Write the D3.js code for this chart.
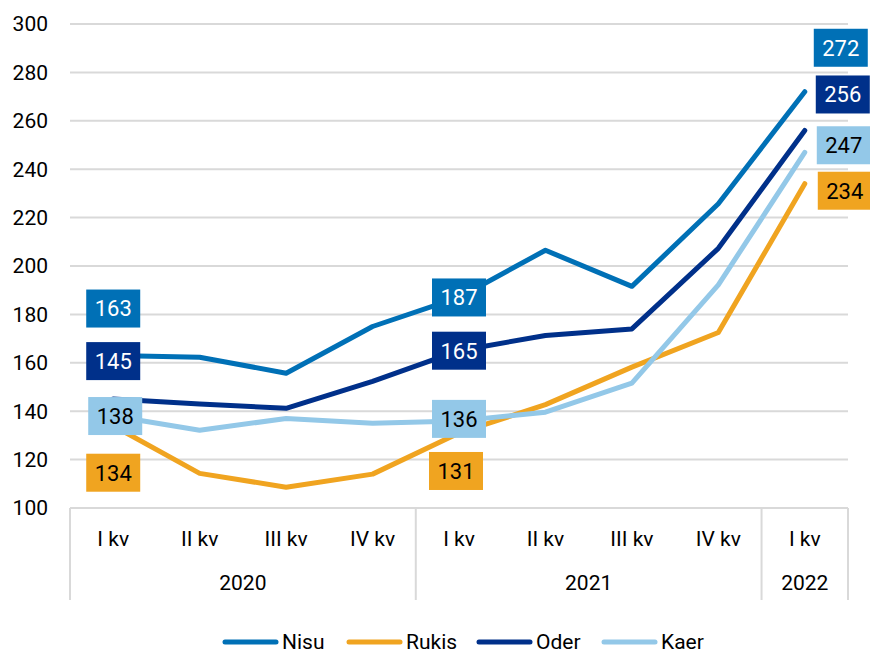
<!DOCTYPE html>
<html>
<head>
<meta charset="utf-8">
<script src="https://cdn.jsdelivr.net/npm/d3@7"></script>
<style>
  body { margin: 0; background: #fff; }
  text { font-family: Roboto, "Liberation Sans", sans-serif; font-weight: 400; }
</style>
</head>
<body>
<svg id="chart" width="870" height="653"></svg>
<script>
// categories
let quarters = ['I kv', 'II kv', 'III kv', 'IV kv', 'I kv', 'II kv', 'III kv', 'IV kv', 'I kv'];
let years = ['2020', '2020', '2020', '2020', '2021', '2021', '2021', '2021', '2022'];
let yTicks = [100, 120, 140, 160, 180, 200, 220, 240, 260, 280, 300];

// series values
let nisu = [163, 162.3, 155.7, 175, 187, 206.5, 191.6, 225.7, 272];
let rukis = [134, 114.3, 108.6, 114, 131, 142.7, 158.2, 172.5, 234];
let oder = [145, 143, 141.2, 152.3, 165, 171.3, 174, 207.3, 256];
let kaer = [138, 132.1, 137, 135, 136, 139.6, 151.6, 192.2, 247];

let seriesNames = ['Nisu', 'Rukis', 'Oder', 'Kaer'];
let seriesColors = ['#0070b6', '#f0a420', '#00308a', '#93c8e8'];
let labelTextColors = ['#fff', '#000', '#fff', '#000'];
let labelIndexes = [0, 4, 8];

// label placement (dx, dy from point)
let labelOffsets = [
    [[0, -47], [0, 0], [36, -44]],
    [[0, 47], [-3, 38], [40, 7]],
    [[0, -38], [0, 0], [38, -36]],
    [[2, 0], [0, -2], [39, -7]]
];

let series = [nisu, rukis, oder, kaer].map((values, i) => ({
    name: seriesNames[i],
    color: seriesColors[i],
    textColor: labelTextColors[i],
    offsets: labelOffsets[i],
    values: values
}));

let svg = d3.select('#chart');
let plotLeft = 70, plotRight = 848, plotTop = 24, plotBottom = 508;

let x = d3.scaleBand()
    .domain(d3.range(quarters.length))
    .range([plotLeft, plotRight]);
let cx = i => x(i) + x.bandwidth() / 2;

let y = d3.scaleLinear()
    .domain([100, 300])
    .range([plotBottom, plotTop]);

// gridlines
svg.append('g')
    .selectAll('line')
    .data(yTicks)
  .enter().append('line')
    .attr('x1', plotLeft)
    .attr('x2', plotRight)
    .attr('y1', d => y(d))
    .attr('y2', d => y(d))
    .attr('stroke', '#d9d9d9')
    .attr('stroke-width', 2);

// y tick labels
svg.append('g')
    .selectAll('text')
    .data(yTicks)
  .enter().append('text')
    .attr('x', 48)
    .attr('y', d => y(d))
    .attr('dy', '0.35em')
    .attr('text-anchor', 'end')
    .style('font-size', '21px')
    .attr('fill', '#000')
    .text(d => d);

// category axis: group separators
let groups = [];
years.forEach((yr, i) => {
    let g = groups.find(g => g.year === yr);
    if (g) g.end = i;
    else groups.push({ year: yr, start: i, end: i });
});
let seps = [plotLeft].concat(groups.map(g => x(g.end) + x.bandwidth()));
svg.append('g')
    .selectAll('line')
    .data(seps)
  .enter().append('line')
    .attr('x1', d => d)
    .attr('x2', d => d)
    .attr('y1', plotBottom)
    .attr('y2', 600)
    .attr('stroke', '#d9d9d9')
    .attr('stroke-width', 2);

svg.append('g')
    .selectAll('text')
    .data(quarters)
  .enter().append('text')
    .attr('x', (d, i) => cx(i))
    .attr('y', 539)
    .attr('dy', '0.35em')
    .attr('text-anchor', 'middle')
    .style('font-size', '21px')
    .text(d => d);

svg.append('g')
    .selectAll('text')
    .data(groups)
  .enter().append('text')
    .attr('x', g => (x(g.start) + x(g.end) + x.bandwidth()) / 2)
    .attr('y', 583)
    .attr('dy', '0.35em')
    .attr('text-anchor', 'middle')
    .style('font-size', '21px')
    .text(g => g.year);

// lines
let line = d3.line()
    .x((d, i) => cx(i))
    .y(d => y(d));

svg.append('g')
    .selectAll('path')
    .data(series)
  .enter().append('path')
    .attr('d', s => line(s.values))
    .attr('fill', 'none')
    .attr('stroke', s => s.color)
    .attr('stroke-width', 5)
    .attr('stroke-linecap', 'round')
    .attr('stroke-linejoin', 'round');

// data labels
let boxW = 54, boxH = 38;
let labels = [];
series.forEach(s => {
    labelIndexes.forEach((idx, k) => {
        labels.push({
            s: s,
            value: s.values[idx],
            px: cx(idx) + s.offsets[k][0],
            py: y(s.values[idx]) + s.offsets[k][1]
        });
    });
});

let lab = svg.append('g')
    .selectAll('g')
    .data(labels)
  .enter().append('g')
    .attr('transform', d => `translate(${d.px},${d.py})`);

lab.append('rect')
    .attr('x', -boxW / 2)
    .attr('y', -boxH / 2)
    .attr('width', boxW)
    .attr('height', boxH)
    .attr('fill', d => d.s.color);

lab.append('text')
    .attr('text-anchor', 'middle')
    .attr('dy', '0.36em')
    .style('font-size', '22px')
    .attr('fill', d => d.s.textColor)
    .text(d => d.value);

// legend
let legendX = [223, 347, 477, 602];
let legend = svg.append('g')
    .selectAll('g')
    .data(series)
  .enter().append('g')
    .attr('transform', (d, i) => `translate(${legendX[i]},642)`);

legend.append('line')
    .attr('x1', 2)
    .attr('x2', 53)
    .attr('stroke', d => d.color)
    .attr('stroke-width', 5)
    .attr('stroke-linecap', 'round');

legend.append('text')
    .attr('x', 59)
    .attr('dy', '0.35em')
    .style('font-size', '21px')
    .text(d => d.name);
</script>
</body>
</html>
